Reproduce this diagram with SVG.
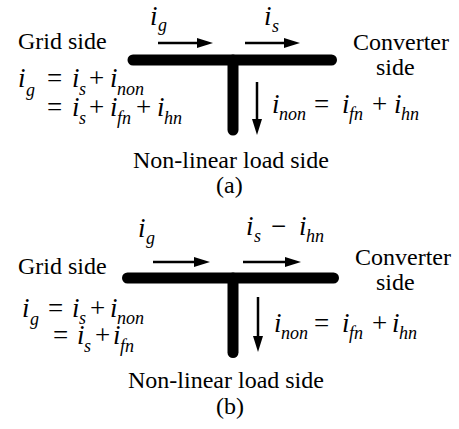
<svg xmlns="http://www.w3.org/2000/svg" width="459" height="429" viewBox="0 0 459 429">
<style>
.t{font-family:'Liberation Serif',serif;font-size:24px;fill:#000}
.v{font-family:'Liberation Serif',serif;font-style:italic;font-size:27px;fill:#000}
.s{font-family:'Liberation Serif',serif;font-style:italic;font-size:18px;fill:#000}
.o{font-family:'Liberation Serif',serif;font-size:27px;fill:#000}
.bar{stroke:#000;stroke-width:11;stroke-linecap:round;fill:none}
.ln{stroke:#000;stroke-width:2.5;fill:none}
.hd{fill:#000;stroke:none}
</style>
<rect width="459" height="429" fill="#fff"/>
<g id="panel-a" font-family="Liberation Serif">
<g id="a-bus">
<path class="bar" d="M133,60 H331.5"/>
<path class="bar" d="M233,60 V130"/>
</g>
<g id="a-connectors">
<path class="ln" d="M158,43 H200"/>
<polygon class="hd" points="197,38 213,43 197,48"/>
<path class="ln" d="M245,43 H287"/>
<polygon class="hd" points="284,38 300,43 284,48"/>
<path class="ln" d="M257,82 V122"/>
<polygon class="hd" points="252,119 257,135 262,119"/>
</g>
<g id="a-grid">
<text class="t" x="18" y="49">Grid side</text>
</g>
<g id="a-converter">
<text class="t" x="353" y="50">Converter</text>
<text class="t" x="376" y="75">side</text>
</g>
<g id="a-load">
<text class="t" x="133" y="168">Non-linear load side</text>
<text class="t" x="216" y="193">(a)</text>
</g>
<g id="a-labels">
<text class="v" x="150" y="25" font-size="28">i</text><text class="s" x="158" y="31">g</text>
<text class="v" x="264" y="25">i</text><text class="s" x="272" y="32">s</text>
<text class="v" x="18" y="87">i</text><text class="s" x="26" y="96">g</text>
<text class="o" x="47" y="87">=</text>
<text class="v" x="72" y="87">i</text><text class="s" x="79" y="95">s</text>
<text class="o" x="89" y="87">+</text>
<text class="v" x="110" y="87">i</text><text class="s" x="117" y="95">non</text>
<text class="o" x="47" y="116">=</text>
<text class="v" x="72" y="116">i</text><text class="s" x="79" y="124">s</text>
<text class="o" x="89" y="116">+</text>
<text class="v" x="110" y="116">i</text><text class="s" x="117" y="124">fn</text>
<text class="o" x="136" y="116">+</text>
<text class="v" x="157" y="116">i</text><text class="s" x="164" y="124">hn</text>
<text class="v" x="272" y="113">i</text><text class="s" x="279" y="120">non</text>
<text class="o" x="314" y="113">=</text>
<text class="v" x="342" y="113">i</text><text class="s" x="349" y="120">fn</text>
<text class="o" x="372" y="113">+</text>
<text class="v" x="394" y="113">i</text><text class="s" x="401" y="120">hn</text>
</g>
</g>
<g id="panel-b" font-family="Liberation Serif">
<g id="b-bus">
<path class="bar" d="M127.5,278 H333.5"/>
<path class="bar" d="M233,278 V352.5"/>
</g>
<g id="b-connectors">
<path class="ln" d="M153,262 H197"/>
<polygon class="hd" points="194,257 210,262 194,267"/>
<path class="ln" d="M243,262 H288"/>
<polygon class="hd" points="285,257 301,262 285,267"/>
<path class="ln" d="M258,297 V339"/>
<polygon class="hd" points="253,336 258,352 263,336"/>
</g>
<g id="b-grid">
<text class="t" x="18" y="274">Grid side</text>
</g>
<g id="b-converter">
<text class="t" x="355" y="265">Converter</text>
<text class="t" x="376" y="290">side</text>
</g>
<g id="b-load">
<text class="t" x="128" y="388">Non-linear load side</text>
<text class="t" x="216" y="414">(b)</text>
</g>
<g id="b-labels">
<text class="v" x="138" y="237" font-size="30">i</text><text class="s" x="146" y="244">g</text>
<text class="v" x="246" y="235">i</text><text class="s" x="254" y="242">s</text>
<text class="o" x="271" y="235">&#8722;</text>
<text class="v" x="299" y="235">i</text><text class="s" x="306" y="242">hn</text>
<text class="v" x="22" y="317">i</text><text class="s" x="30" y="325">g</text>
<text class="o" x="48" y="317">=</text>
<text class="v" x="72" y="317">i</text><text class="s" x="79" y="324">s</text>
<text class="o" x="90" y="317">+</text>
<text class="v" x="110" y="317">i</text><text class="s" x="117" y="324">non</text>
<text class="o" x="53" y="344">=</text>
<text class="v" x="77" y="344">i</text><text class="s" x="84" y="352">s</text>
<text class="o" x="95" y="344">+</text>
<text class="v" x="113" y="344">i</text><text class="s" x="120" y="352">fn</text>
<text class="v" x="274" y="332">i</text><text class="s" x="281" y="339">non</text>
<text class="o" x="314" y="332">=</text>
<text class="v" x="342" y="332">i</text><text class="s" x="349" y="339">fn</text>
<text class="o" x="372" y="332">+</text>
<text class="v" x="392" y="332">i</text><text class="s" x="399" y="339">hn</text>
</g>
</g>
</svg>
